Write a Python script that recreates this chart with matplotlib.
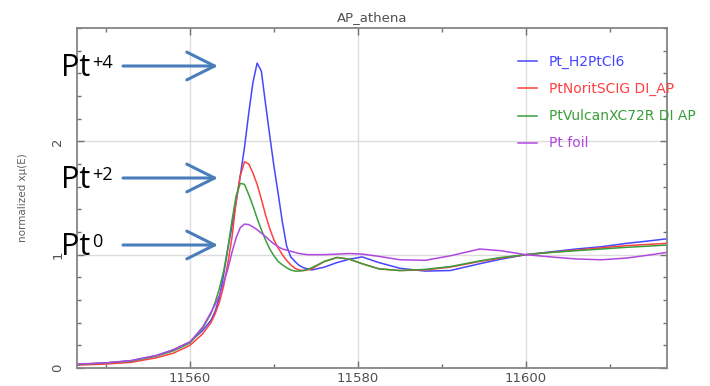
import matplotlib
matplotlib.use("Agg")
import matplotlib.pyplot as plt
from matplotlib.patches import FancyArrowPatch
from matplotlib.ticker import MultipleLocator

# energy grid (eV) and normalized xmu(E)
energy = [11546.5, 11550, 11553, 11556, 11558, 11560, 11561.5, 11562.5,
          11563, 11563.5, 11564, 11564.5, 11565, 11565.5, 11566, 11566.5,
          11567, 11567.5, 11568, 11568.5, 11569, 11569.5, 11570, 11570.5,
          11571, 11571.5, 11572, 11572.5, 11573, 11573.5, 11574, 11574.5,
          11576, 11577.5, 11579, 11580.5, 11582.5, 11585, 11588, 11591,
          11594.5, 11597, 11600, 11603, 11606, 11609, 11612, 11614.5, 11616.8]

mu_h2ptcl6 = [0.03, 0.045, 0.065, 0.11, 0.16, 0.23, 0.33, 0.42,
              0.50, 0.62, 0.82, 1.05, 1.25, 1.47, 1.70, 1.95,
              2.25, 2.52, 2.69, 2.62, 2.33, 2.05, 1.78, 1.54,
              1.29, 1.08, 0.98, 0.94, 0.905, 0.885, 0.875, 0.865,
              0.89, 0.93, 0.96, 0.98, 0.93, 0.88, 0.855, 0.86,
              0.92, 0.96, 1.0, 1.025, 1.05, 1.07, 1.10, 1.12, 1.14]

mu_norit = [0.025, 0.035, 0.05, 0.09, 0.13, 0.20, 0.30, 0.40,
            0.48, 0.58, 0.72, 0.92, 1.15, 1.47, 1.70, 1.82,
            1.80, 1.72, 1.62, 1.49, 1.35, 1.23, 1.13, 1.06,
            1.00, 0.95, 0.91, 0.88, 0.865, 0.86, 0.865, 0.875,
            0.94, 0.975, 0.96, 0.92, 0.875, 0.86, 0.865, 0.89,
            0.94, 0.97, 1.0, 1.02, 1.04, 1.06, 1.08, 1.09, 1.10]

mu_vulcan = [0.03, 0.045, 0.06, 0.105, 0.15, 0.22, 0.35, 0.48,
             0.58, 0.70, 0.85, 1.05, 1.30, 1.52, 1.63, 1.62,
             1.53, 1.43, 1.32, 1.22, 1.13, 1.05, 0.99, 0.94,
             0.91, 0.885, 0.865, 0.855, 0.855, 0.86, 0.87, 0.885,
             0.94, 0.975, 0.96, 0.92, 0.875, 0.86, 0.87, 0.895,
             0.945, 0.975, 1.0, 1.02, 1.035, 1.05, 1.065, 1.075, 1.085]

mu_foil = [0.035, 0.045, 0.065, 0.11, 0.16, 0.23, 0.36, 0.49,
           0.56, 0.64, 0.75, 0.87, 1.02, 1.15, 1.24, 1.27,
           1.265, 1.245, 1.22, 1.19, 1.16, 1.125, 1.095, 1.07,
           1.05, 1.04, 1.03, 1.02, 1.01, 1.005, 1.0, 1.0,
           1.0, 1.005, 1.01, 1.005, 0.985, 0.955, 0.95, 0.99,
           1.05, 1.035, 1.0, 0.98, 0.962, 0.955, 0.97, 0.995, 1.02]

labels = ["Pt_H2PtCl6", "PtNoritSCIG DI_AP", "PtVulcanXC72R DI AP", "Pt foil"]
colors = ["#4646ff", "#ff4040", "#3a9e3a", "#b048e0"]

# oxidation-state callouts: (main text, superscript, arrow y in figure pixels)
callouts = [("Pt", "+4", 66), ("Pt", "+2", 178), ("Pt", "0", 245)]

W, H = 710, 386
fig = plt.figure(figsize=(W / 100, H / 100), dpi=100)
ax = fig.add_axes([77 / W, (H - 368) / H, 590 / W, 340 / H])

for mu, lab, col in zip([mu_h2ptcl6, mu_norit, mu_vulcan, mu_foil], labels, colors):
    ax.plot(energy, mu, color=col, lw=1.1, label=lab)

ax.set_xlim(11546.55, 11616.8)
ax.set_ylim(0, 3)
ax.xaxis.set_major_locator(MultipleLocator(20))
ax.xaxis.set_minor_locator(MultipleLocator(10))
ax.yaxis.set_major_locator(MultipleLocator(1))
ax.yaxis.set_minor_locator(MultipleLocator(0.2))
ax.set_yticks([0, 1, 2])
ax.grid(True, which="major", color="#dcdcdc", lw=1.0)
ax.set_axisbelow(True)

for s in ax.spines.values():
    s.set_color("#858585")
    s.set_linewidth(1.3)
ax.tick_params(which="both", direction="in", top=True, right=True,
               color="#707070", labelcolor="#505050", labelsize=9.5)
ax.tick_params(which="major", length=5, width=1)
ax.tick_params(which="minor", length=3, width=1)
ax.tick_params(axis="x", pad=3)
ax.tick_params(axis="y", pad=9)
for t in ax.get_yticklabels():
    t.set_rotation(90)
    t.set_va("center")

ax.set_title("AP_athena", fontsize=9.5, color="#505050", pad=5)
ax.set_ylabel("normalized x\u03bc(E)", fontsize=7.5, color="#606060", labelpad=17)

leg = ax.legend(loc="upper left", bbox_to_anchor=(518 / W, 1 - 55 / H),
                bbox_transform=fig.transFigure, frameon=False, fontsize=10,
                handlelength=1.37, handletextpad=0.86, labelspacing=0.94,
                borderpad=0, borderaxespad=0, labelcolor="linecolor")

arrow_col = "#4a7ebb"
for main, sup, ay in callouts:
    fig.text(61 / W, 1 - (ay + 10) / H, main, fontsize=22, family="Open Sans",
             color="black", ha="left", va="baseline")
    fig.text(92 / W, 1 - (ay + 2) / H, sup, fontsize=13, family="Open Sans",
             color="black", ha="left", va="baseline")
    fig.add_artist(FancyArrowPatch(
        (123 / W, 1 - ay / H), (218 / W, 1 - ay / H), transform=fig.transFigure,
        arrowstyle="->,head_length=1.0,head_width=0.5", mutation_scale=20,
        color=arrow_col, lw=2.2, shrinkA=0, shrinkB=0))

fig.savefig("out.png", dpi=100)
